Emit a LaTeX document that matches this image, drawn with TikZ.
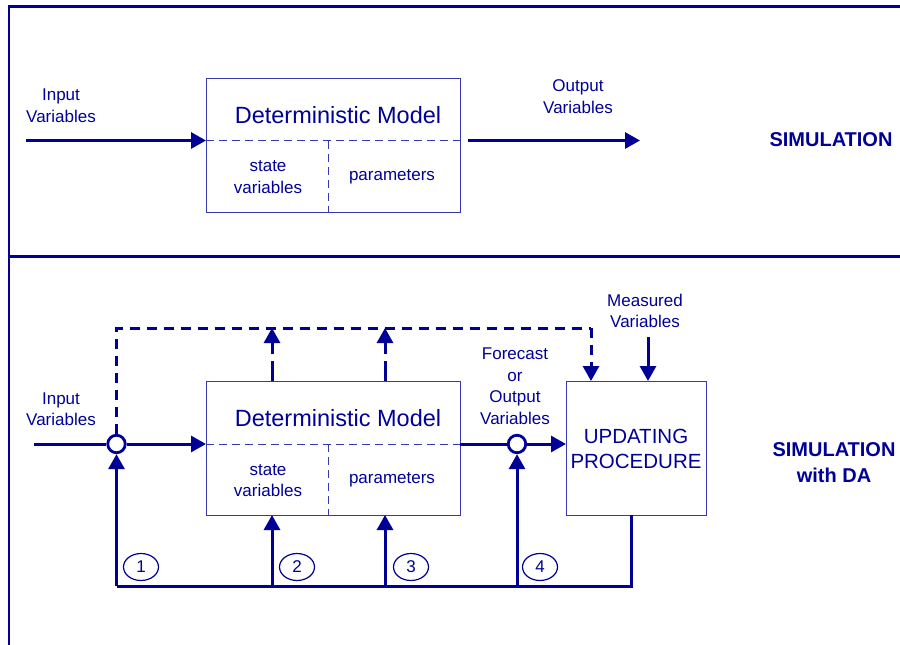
\documentclass[tikz,border=0pt]{standalone}
\usepackage{fontspec}
\setmainfont{Liberation Sans}
\usetikzlibrary{arrows.meta,shapes.geometric}
\definecolor{navy}{RGB}{0,0,150}
\definecolor{boxc}{RGB}{55,55,175}
\begin{document}
\begin{tikzpicture}[x=1pt,y=-1pt,
  txt/.style={text=navy,align=center,inner sep=0pt,font=\fontsize{17}{21.5}\selectfont},
  title/.style={text=navy,inner sep=0pt,font=\fontsize{23.5}{28}\selectfont},
  side/.style={text=navy,align=center,inner sep=0pt,font=\fontsize{20}{26}\selectfont\bfseries},
  box/.style={draw=boxc,line width=1.4pt,rectangle,inner sep=0pt,anchor=north west},
  thindash/.style={draw=boxc,line width=1pt,dash pattern=on 8pt off 5pt},
  thk/.style={draw=navy,line width=3pt},
  arr/.style={thk,-{Triangle[length=15pt,width=16pt]}},
  darr/.style={arr,dash pattern=on 10pt off 7pt},
  uparr/.style={arr,dash pattern=on 20pt off 7pt on 11pt off 0pt},
  dline/.style={thk,dash pattern=on 10pt off 7pt},
  junc/.style={circle,draw=navy,line width=2.8pt,fill=white,minimum size=17.5pt,inner sep=0pt},
  num/.style={ellipse,draw=navy,line width=1.2pt,minimum width=35pt,minimum height=27pt,inner sep=0pt,text=navy,font=\fontsize{17}{20}\selectfont}
]
\useasboundingbox (0,0) rectangle (900,645);
% frame
\draw[navy,line width=2.5pt] (9,645) -- (9,6.5) -- (900,6.5);
\draw[navy,line width=3pt] (9,256) -- (900,256);

% ---------- upper part ----------
\node[box,minimum width=254pt,minimum height=134pt] (m1) at (206,78) {};
\coordinate (m1d) at (206,140.5);
\coordinate (m1dr) at (460,140.5);
\coordinate (m1vt) at (328.3,140.5);
\coordinate (m1vb) at (328.3,212);
\draw[thindash] (m1d) -- (m1dr);
\draw[thindash] (m1vt) -- (m1vb);
\node[title] (m1t) at (338,115) {Deterministic Model};
\node[txt] (m1s) at (268,177) {state\\variables};
\node[txt] (m1p) at (392,177) {parameters};
\node[txt] (in1t) at (61,105.5) {Input\\Variables};
\coordinate (in1) at (26,140.5);
\draw[arr] (in1) -- (m1d);
\coordinate (out1s) at (468,140.5);
\coordinate (out1) at (640,140.5);
\draw[arr] (out1s) -- (out1);
\node[txt] (out1t) at (578,96.5) {Output\\Variables};
\node[side] (sim) at (831,140) {SIMULATION};

% ---------- lower part ----------
\node[box,minimum width=254pt,minimum height=134pt] (m2) at (206,381) {};
\coordinate (m2d) at (206,444);
\coordinate (m2dr) at (460,444);
\coordinate (m2vt) at (328.3,444);
\coordinate (m2vb) at (328.3,515);
\draw[thindash] (m2d) -- (m2dr);
\draw[thindash] (m2vt) -- (m2vb);
\node[title] (m2t) at (338,418) {Deterministic Model};
\node[txt] (m2s) at (268,480.5) {state\\variables};
\node[txt] (m2p) at (392,480) {parameters};

\node[box,minimum width=140pt,minimum height=134pt] (up) at (566,381) {};
\node[text=navy,align=center,inner sep=0pt,font=\fontsize{20.5}{24.5}\selectfont] (upt) at (636,449) {UPDATING\\PROCEDURE};

\node[txt] (in2t) at (61,409) {Input\\Variables};
\node[txt] (fct) at (515,386) {Forecast\\or\\Output\\Variables};
\node[txt] (meas) at (645,311) {Measured\\Variables};
\node[side] (simda) at (834,463) {SIMULATION\\with DA};

\node[junc] (c1) at (116.5,444) {};
\node[junc] (c2) at (517,444) {};

\coordinate (in2) at (34,444);
\draw[thk] (in2) -- (c1.west);
\draw[arr] (c1.east) -- (m2d);
\draw[thk] (m2dr) -- (c2.west);
\draw[arr] (c2.east) -- (c2 -| up.west);

% dashed forecast path
\coordinate (dtl) at (116.5,328);
\coordinate (dtr) at (591,328);
\coordinate (dtb) at (591,381);
\draw[dline] (c1.north) -- (dtl) -- (dtr);
\draw[darr] (dtr) -- (dtb);
\coordinate (a2b) at (272,381);
\coordinate (a2t) at (272,328);
\coordinate (a3b) at (385,381);
\coordinate (a3t) at (385,328);
\draw[uparr] (a2b) -- (a2t);
\draw[uparr] (a3b) -- (a3t);

% measured
\coordinate (mv) at (648,337);
\coordinate (mvb) at (648,381);
\draw[arr] (mv) -- (mvb);

% feedback
\coordinate (fbl) at (116.5,586);
\coordinate (fbr) at (631,586);
\coordinate (fbt) at (631,515);
\coordinate (f2) at (272,586);
\coordinate (f2t) at (272,515);
\coordinate (f3) at (385,586);
\coordinate (f3t) at (385,515);
\coordinate (f4) at (517,586);
\draw[thk] (fbl) -- (fbr) -- (fbt);
\draw[arr] (fbl) -- (c1.south);
\draw[arr] (f2) -- (f2t);
\draw[arr] (f3) -- (f3t);
\draw[arr] (f4) -- (c2.south);

\node[num] (n1) at (141,567) {1};
\node[num] (n2) at (297,567) {2};
\node[num] (n3) at (411,567) {3};
\node[num] (n4) at (540,567) {4};
\end{tikzpicture}
\end{document}
